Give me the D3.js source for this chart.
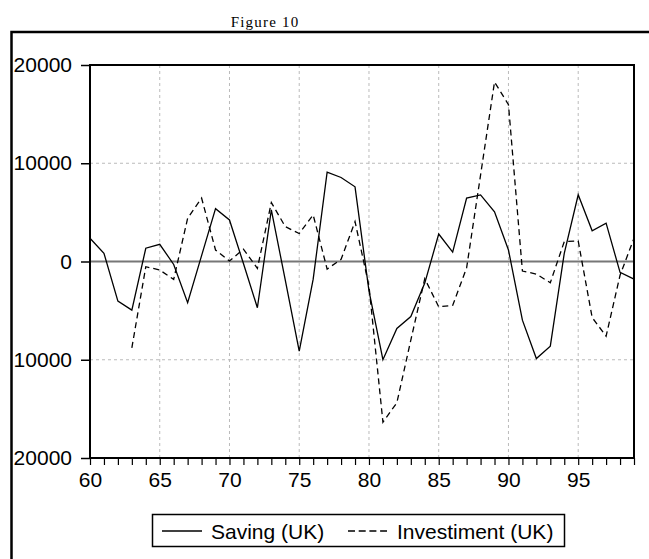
<!DOCTYPE html>
<html>
<head>
<meta charset="utf-8">
<script src="https://cdn.jsdelivr.net/npm/d3@7"></script>
<style>
  body { margin: 0; background: #fff; }
  svg { display: block; }
  .tick text { font-family: Arial, "Liberation Sans", sans-serif; }
</style>
</head>
<body>
<svg id="chart" width="649" height="559"></svg>
<script>
// years 1960 - 1999 (2 digit)
const years = d3.range(60, 100);
const saving = [2370, 840, -4030, -4950, 1350, 1750, -300, -4200, 600, 5380,
                4230, -200, -4710, 5250, -1900, -9130, -1800, 9100, 8550, 7600,
                -3000, -10000, -6820, -5600, -2200, 2800, 950, 6450, 6780, 5050,
                1170, -5970, -9880, -8620, 830, 6790, 3130, 3900, -1100, -1790];
// investment starts in 63
const investiment = [null, null, null, -8790, -530, -870, -1820, 4400, 6450, 1170,
                     50, 1260, -700, 6000, 3550, 2850, 4740, -770, 220, 4060,
                     -2500, -16350, -14370, -8000, -1750, -4610, -4470, -650, 8800, 18270,
                     15970, -970, -1280, -2160, 2020, 2090, -5700, -7600, -1400, 2370];
const yTicks = [-20000, -10000, 0, 10000, 20000];
const xLabels = [60, 65, 70, 75, 80, 85, 90, 95];
const legendNames = ['Saving (UK)', 'Investiment (UK)'];

var svg = d3.select('#chart');
var pLeft = 90, pRight = 634, pTop = 65, pBottom = 458;

var x = d3.scaleLinear().domain([60, 99]).range([pLeft, pRight]);
var y = d3.scaleLinear().domain([-20000, 20000]).range([pBottom, pTop]);

// outer frame (runs off the page right and bottom)
svg.append('path')
   .attr('d', 'M11.5,559 L11.5,32 L649,32')
   .attr('fill', 'none')
   .attr('stroke', '#000')
   .attr('stroke-width', 2.5);

svg.append('text')
   .attr('x', 265)
   .attr('y', 27)
   .attr('text-anchor', 'middle')
   .style('font-family', '"Liberation Serif", "DejaVu Serif", serif')
   .style('font-size', '15px')
   .style('letter-spacing', '1.2px')
   .text('Figure 10');

// grid
svg.append('g')
   .selectAll('line')
   .data(xLabels.filter(function(d){ return d > 60; }))
   .enter().append('line')
   .attr('x1', function(d){ return x(d); })
   .attr('x2', function(d){ return x(d); })
   .attr('y1', pTop)
   .attr('y2', pBottom)
   .attr('stroke', '#bbb')
   .attr('stroke-dasharray', '3,3');

svg.append('g')
   .selectAll('line')
   .data([-10000, 10000])
   .enter().append('line')
   .attr('x1', pLeft)
   .attr('x2', pRight)
   .attr('y1', function(d){ return y(d); })
   .attr('y2', function(d){ return y(d); })
   .attr('stroke', '#bbb')
   .attr('stroke-dasharray', '3,3');

svg.append('line')
   .attr('x1', pLeft)
   .attr('x2', pRight)
   .attr('y1', y(0))
   .attr('y2', y(0))
   .attr('stroke', '#777')
   .attr('stroke-width', 2);

// axes
var yAxis = d3.axisLeft(y)
              .tickValues(yTicks)
              .tickSize(9)
              .tickPadding(9)
              .tickFormat(function(d){ return String(Math.abs(d)); });

var gy = svg.append('g')
            .attr('transform', 'translate(' + pLeft + ',0)')
            .call(yAxis);
gy.select('.domain').remove();
gy.selectAll('.tick line').attr('stroke-width', 1.5);
gy.selectAll('.tick text').style('font-size', '21px').attr('fill', '#000');

var xAxis = d3.axisBottom(x)
              .tickValues(years)
              .tickSize(7)
              .tickPadding(7)
              .tickFormat(function(d){ return d % 5 === 0 ? String(d) : ''; });

var gx = svg.append('g')
            .attr('transform', 'translate(0,' + pBottom + ')')
            .call(xAxis);
gx.select('.domain').remove();
gx.selectAll('.tick line').attr('stroke-width', 1.2);
gx.selectAll('.tick text').style('font-size', '21px').attr('fill', '#000');

// series
var line = d3.line()
             .defined(function(d){ return d != null; })
             .x(function(d, i){ return x(years[i]); })
             .y(function(d){ return y(d); });

svg.append('path')
   .datum(investiment)
   .attr('d', line)
   .attr('fill', 'none')
   .attr('stroke', '#000')
   .attr('stroke-width', 1.3)
   .attr('stroke-dasharray', '6,4');

svg.append('path')
   .datum(saving)
   .attr('d', line)
   .attr('fill', 'none')
   .attr('stroke', '#000')
   .attr('stroke-width', 1.3);

// plot frame
svg.append('rect')
   .attr('x', pLeft)
   .attr('y', pTop)
   .attr('width', pRight - pLeft)
   .attr('height', pBottom - pTop)
   .attr('fill', 'none')
   .attr('stroke', '#000')
   .attr('stroke-width', 2);

// legend
var legend = svg.append('g');
legend.append('rect')
      .attr('x', 152.5)
      .attr('y', 514.5)
      .attr('width', 412)
      .attr('height', 32)
      .attr('fill', 'none')
      .attr('stroke', '#000')
      .attr('stroke-width', 1.5);

var legendItems = [
  {name: legendNames[0], x1: 162, x2: 202, tx: 211, dash: null},
  {name: legendNames[1], x1: 348, x2: 387, tx: 397, dash: '7,3.7'}
];

legendItems.forEach(function(d){
  legend.append('line')
        .attr('x1', d.x1)
        .attr('x2', d.x2)
        .attr('y1', 531)
        .attr('y2', 531)
        .attr('stroke', '#000')
        .attr('stroke-width', 1.3)
        .attr('stroke-dasharray', d.dash);
  legend.append('text')
        .attr('x', d.tx)
        .attr('y', 538.5)
        .style('font-family', 'Arial, "Liberation Sans", sans-serif')
        .style('font-size', '21px')
        .text(d.name);
});
</script>
</body>
</html>
